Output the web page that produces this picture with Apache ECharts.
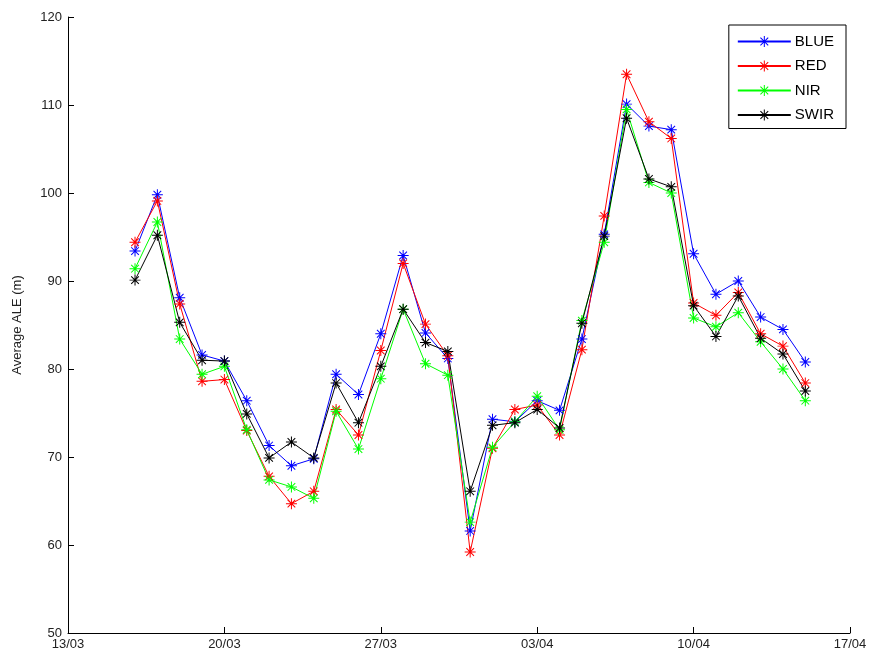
<!DOCTYPE html>
<html>
<head>
<meta charset="utf-8">
<script src="https://cdn.jsdelivr.net/npm/echarts@6/dist/echarts.min.js"></script>
<style>
  html, body { margin: 0; padding: 0; background: #fff; }
  #chart { width: 870px; height: 656px; }
</style>
</head>
<body>
<div id="chart"></div>
<script>
// Observation dates (dd/mm)
const dates = ['16/03','17/03','18/03','19/03','20/03','21/03','22/03','23/03','24/03','25/03','26/03',
  '27/03','28/03','29/03','30/03','31/03','01/04','02/04','03/04','04/04','05/04','06/04','07/04',
  '08/04','09/04','10/04','11/04','12/04','13/04','14/04','15/04'];

// Average ALE (m) per band
const blue = [93.4, 99.8, 88.1, 81.6, 80.9, 76.4, 71.3, 69.0, 69.8, 79.4, 77.1, 84.0, 92.9, 84.1, 81.2,
  61.6, 74.3, 74.0, 76.4, 75.3, 83.4, 95.3, 110.1, 107.6, 107.2, 93.1, 88.5, 90.0, 85.9, 84.5, 80.8];
const red = [94.4, 99.1, 87.4, 78.6, 78.8, 73.0, 67.8, 64.7, 66.1, 75.4, 72.5, 82.1, 92.0, 85.1, 81.5,
  59.2, 71.0, 75.4, 75.9, 72.5, 82.2, 97.4, 113.5, 108.1, 106.2, 87.5, 86.1, 88.7, 84.0, 82.6, 78.4];
const nir = [91.4, 96.7, 83.4, 79.4, 80.3, 73.1, 67.4, 66.6, 65.3, 75.2, 70.9, 78.9, 86.8, 80.6, 79.3,
  62.6, 71.1, 74.0, 76.9, 73.1, 85.5, 94.4, 109.5, 101.2, 100.0, 85.8, 84.8, 86.4, 83.1, 80.0, 76.4];
const swir = [90.1, 95.2, 85.3, 81.0, 80.9, 74.9, 69.9, 71.7, 69.9, 78.4, 73.9, 80.3, 86.8, 83.0, 82.0,
  66.1, 73.6, 73.9, 75.4, 73.3, 85.2, 95.1, 108.5, 101.6, 100.7, 87.2, 83.7, 88.3, 83.5, 81.7, 77.5];

// Tick labels on the date axis, one per week starting 13/03
const xTickLabels = ['13/03','20/03','27/03','03/04','10/04','17/04'];
const yTicks = [50, 60, 70, 80, 90, 100, 110, 120];

const seriesNames = ['BLUE', 'RED', 'NIR', 'SWIR'];
const seriesValues = [blue, red, nir, swir];
const seriesColors = ['#0000ff', '#ff0000', '#00ff00', '#000000'];

// Day offset from 13/03 for a dd/mm string
function dayOffset(s) {
  const [d, m] = s.split('/').map(Number);
  return m === 3 ? d - 13 : d + 18;
}

// Asterisk marker (plus + cross) as a filled path
const asterisk = 'path://M0,4.55H10V5.45H0Z M4.55,0H5.45V10H4.55Z M1.2,1.85L1.85,1.2L8.8,8.15L8.15,8.8Z M8.15,1.2L8.8,1.85L1.85,8.8L1.2,8.15Z';

const font = '"Liberation Sans", Arial, sans-serif';

const chart = echarts.init(document.getElementById('chart'));
chart.setOption({
  animation: false,
  backgroundColor: '#fff',
  grid: { left: 68, right: 20, top: 17, bottom: 23, containLabel: false },
  legend: {
    orient: 'vertical',
    right: 24,
    top: 25,
    padding: [9, 12, 6, 8],
    itemGap: 9.5,
    itemWidth: 53,
    itemHeight: 14,
    borderColor: '#000',
    borderWidth: 1,
    textStyle: { fontFamily: font, fontSize: 15, color: '#000', padding: [0, 0, 0, -1] },
    data: seriesNames
  },
  xAxis: {
    type: 'value',
    min: 0,
    max: 35,
    interval: 7,
    axisLine: { show: true, lineStyle: { color: '#000', width: 1 } },
    axisTick: { show: true, inside: true, length: 6, lineStyle: { color: '#000' } },
    splitLine: { show: false },
    axisLabel: {
      fontFamily: font, fontSize: 13, color: '#222', margin: 5,
      formatter: v => xTickLabels[Math.round(v / 7)] || ''
    }
  },
  yAxis: {
    type: 'value',
    min: yTicks[0],
    max: yTicks[yTicks.length - 1],
    interval: 10,
    name: 'Average ALE (m)',
    nameLocation: 'middle',
    nameGap: 44,
    nameTextStyle: { fontFamily: font, fontSize: 13, color: '#222' },
    axisLine: { show: true, lineStyle: { color: '#000', width: 1 } },
    axisTick: { show: true, inside: true, length: 6, lineStyle: { color: '#000' } },
    splitLine: { show: false },
    axisLabel: { fontFamily: font, fontSize: 13, color: '#222', margin: 6 }
  },
  series: seriesNames.map((name, i) => ({
    name: name,
    type: 'line',
    data: dates.map((d, j) => [dayOffset(d), seriesValues[i][j]]),
    symbol: asterisk,
    symbolSize: 11,
    showAllSymbol: true,
    lineStyle: { color: seriesColors[i], width: 1 },
    itemStyle: { color: seriesColors[i] },
    emphasis: { disabled: true }
  }))
});
</script>
</body>
</html>
